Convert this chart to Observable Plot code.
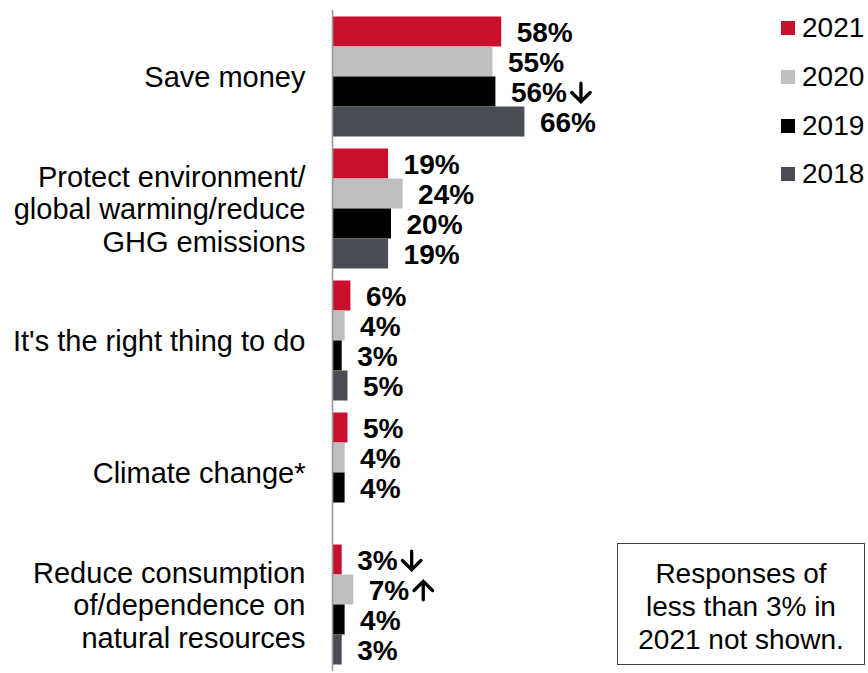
<!DOCTYPE html>
<html>
<head>
<meta charset="utf-8">
<script src="https://cdn.jsdelivr.net/npm/d3@7"></script>
<script src="https://cdn.jsdelivr.net/npm/@observablehq/plot@0.6"></script>
<style>
  body { margin: 0; background: #fff; font-family: "Liberation Sans", Arial, sans-serif; }
  #wrap { position: relative; width: 868px; height: 673px; overflow: hidden; background: #fff; }
  #chart svg { display: block; }
  #legend { position: absolute; left: 781px; top: 4px; }
  .row { display: flex; align-items: center; height: 48.7px; font-size: 28px; color: #000; white-space: nowrap; }
  .sw { width: 14px; height: 14px; margin-right: 7px; flex: none; }
  #note { position: absolute; left: 617px; top: 543px; width: 248px; height: 122px; border: 1px solid #404040;
          display: flex; flex-direction: column; justify-content: center; align-items: center;
          font-size: 28px; line-height: 33px; color: #000; text-align: center; padding-top: 4px; box-sizing: border-box; }
</style>
</head>
<body>
<div id="wrap">
  <div id="chart"></div>
  <div id="legend"></div>
  <div id="note"></div>
</div>
<script>
const categories = [
  "Save money",
  "Protect environment/\nglobal warming/reduce\nGHG emissions",
  "It's the right thing to do",
  "Climate change*",
  "Reduce consumption\nof/dependence on\nnatural resources"
];
const years = ["2021", "2020", "2019", "2018"];
const colors = ["#c8102e", "#bfbfbf", "#000000", "#4a4c54"];

const values2021 = [58, 19, 6, 5, 3];
const values2020 = [55, 24, 4, 4, 7];
const values2019 = [56, 20, 3, 4, 4];
const values2018 = [66, 19, 5, null, 3];

// significance arrows shown after the value labels
const arrows2021 = ["", "", "", "", "↓"];
const arrows2020 = ["", "", "", "", "↑"];
const arrows2019 = ["↓", "", "", "", ""];
const arrows2018 = ["", "", "", "", ""];

const noteLines = ["Responses of", "less than 3% in", "2021 not shown."];

const yearValues = [values2021, values2020, values2019, values2018];
const yearArrows = [arrows2021, arrows2020, arrows2019, arrows2018];
const data = years.flatMap((year, j) =>
  categories.map((category, i) => ({category, year, value: yearValues[j][i], arrow: yearArrows[j][i]}))
).filter(d => d.value != null);
const label = d => d.value + "%";

const fyPadIn = 0.068, fyPadOut = 0.034;
const H = 673, MT = 8.5, MB = 0;
const step = (H - MT - MB) / (categories.length - fyPadIn + 2 * fyPadOut);
const bw = step * (1 - fyPadIn);
const tickOffset = -(bw / 2 + step * fyPadIn / 2);

const labelFont = "bold 28px 'Liberation Sans', Arial, sans-serif";
const ctx = document.createElement("canvas").getContext("2d");
ctx.font = labelFont;
const textWidth = t => ctx.measureText(t).width;
const labelDx = 15;

const arrowShape = {
  draw(context, l) {
    const w = l * 0.5;
    context.moveTo(0, 0);
    context.lineTo(0, -l);
    context.moveTo(-w, w - l);
    context.lineTo(0, -l);
    context.lineTo(w, w - l);
  }
};

const arrowMarks = data.filter(d => d.arrow).map(d =>
  Plot.vector([d], {
    x: "value", y: "year", fy: "category",
    rotate: d.arrow === "↓" ? 180 : 0,
    length: 18.5, anchor: "middle", shape: arrowShape,
    dx: labelDx + textWidth(label(d)) + 14, dy: 0.5,
    stroke: "#000", strokeWidth: 3.3, strokeLinejoin: "miter"
  })
);

const chart = Plot.plot({
  width: 868,
  height: H,
  marginLeft: 333,
  marginRight: 245,
  marginTop: MT,
  marginBottom: MB,
  style: {fontFamily: "'Liberation Sans', Arial, sans-serif", background: "white", overflow: "visible"},
  x: {domain: [0, 100], axis: null},
  y: {domain: years, axis: null, paddingInner: 0, paddingOuter: 0},
  fy: {domain: categories, axis: null, paddingInner: fyPadIn, paddingOuter: fyPadOut},
  color: {domain: years, range: colors},
  length: {type: "identity"},
  marks: [
    Plot.barX(data, {x: "value", y: "year", fy: "category", fill: "year", inset: 0}),
    Plot.ruleX(categories, {fy: d => d, x: 0, dx: -1, stroke: "#9a9a9a", strokeWidth: 1.6,
      insetTop: -step * fyPadIn / 2 - 0.5, insetBottom: -step * fyPadIn / 2 - 0.5}),
    Plot.ruleY(categories, {fy: d => d, x1: 0, x2: 0, insetLeft: -11, dy: tickOffset, stroke: "#9a9a9a", strokeWidth: 1.6}),
    Plot.text(categories, {fy: d => d, text: d => d, frameAnchor: "left", textAnchor: "end", dx: -28,
      fontSize: 29, lineHeight: 1.12, fill: "#000"}),
    Plot.text(data, {x: "value", y: "year", fy: "category", text: label,
      dx: labelDx, dy: 1, textAnchor: "start", fontSize: 28, fontWeight: "bold", fill: "#000"}),
    ...arrowMarks
  ]
});
document.getElementById("chart").appendChild(chart);

const legend = d3.select("#legend");
years.forEach((y, i) => {
  const row = legend.append("div").attr("class", "row");
  row.append("div").attr("class", "sw").style("background", colors[i]);
  row.append("span").text(y);
});
const note = d3.select("#note");
noteLines.forEach(t => note.append("div").text(t));
</script>
</body>
</html>
